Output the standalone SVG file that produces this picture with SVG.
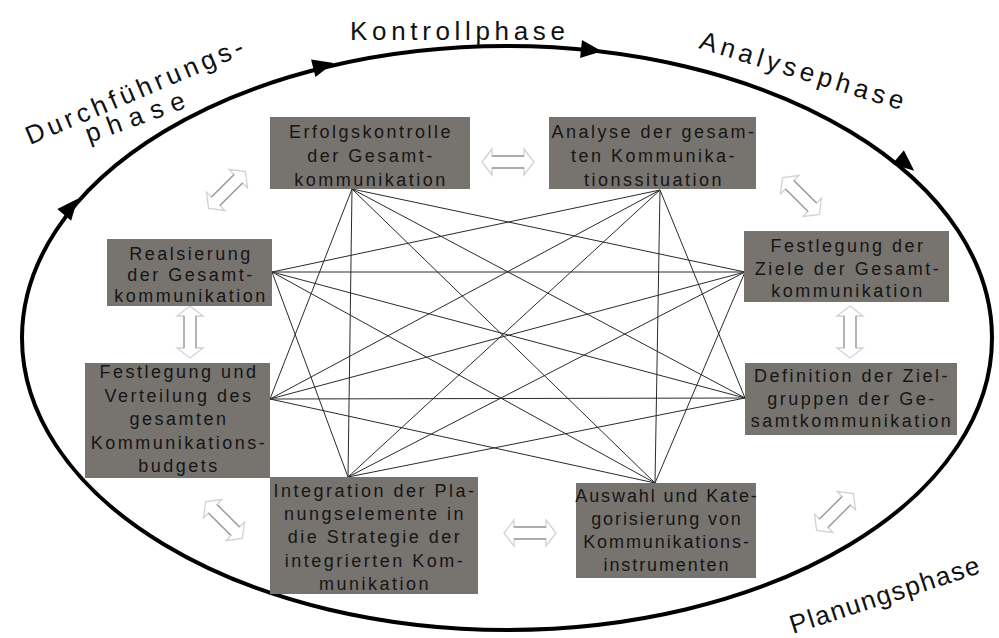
<svg xmlns="http://www.w3.org/2000/svg" width="999" height="638" viewBox="0 0 999 638">
<style>
.box{fill:#77736f;}
.bt{font-family:"Liberation Sans",Arial,sans-serif;font-size:18px;letter-spacing:2.5px;fill:#161616;text-anchor:middle;}
.tight{letter-spacing:1.9px;}
.ph{font-family:"Liberation Sans",Arial,sans-serif;font-size:26px;fill:#111;}
.ln{stroke:#2a2a2a;stroke-width:1;fill:none;}
.dao{fill:#fff;stroke:#d2d2d2;stroke-width:1.3;}
.das{stroke:#9c9c9c;stroke-width:1.3;fill:none;}
</style>
<defs>
<g id="darr">
<path class="dao" d="M -26 0 L -16 -13 L -16 -6 L 16 -6 L 16 -13 L 26 0 L 16 13 L 16 6 L -16 6 L -16 13 Z"/>
<path class="das" d="M -16 -6 H 16 M -16 6 H 16"/>
</g>
<path id="tri" d="M 12 0 L -9 -9 L -9 9 Z" fill="#000"/>
</defs>
<rect width="999" height="638" fill="#fff"/>

<g id="cycle">
<ellipse cx="507" cy="338" rx="485" ry="292" fill="none" stroke="#000" stroke-width="4"/>
<use href="#tri" transform="translate(322,66) rotate(-14)"/>
<use href="#tri" transform="translate(590,50) rotate(6)"/>
<use href="#tri" transform="translate(905,163) rotate(40)"/>
<use href="#tri" transform="translate(70,208) rotate(-50)"/>
</g>

<g id="phases">
<text class="ph" x="350" y="40" textLength="215">Kontrollphase</text>
<text class="ph" transform="translate(698,48) rotate(17)" textLength="212">Analysephase</text>
<text class="ph" transform="translate(30,145) rotate(-23)" textLength="234">Durchführungs-</text>
<text class="ph" transform="translate(89,143) rotate(-20)" textLength="104">phase</text>
<text class="ph" transform="translate(793,634) rotate(-18)" textLength="198">Planungsphase</text>
</g>

<g id="connectors">
<path class="ln" d="M352 189 L745 272 M352 189 L745 398 M352 189 L655 483 M352 189 L348 477 M352 189 L270 399"/>
<path class="ln" d="M660 190 L745 398 M660 190 L655 483 M660 190 L348 477 M660 190 L270 399 M660 190 L272 272"/>
<path class="ln" d="M745 272 L655 483 M745 272 L348 477 M745 272 L270 399 M745 272 L272 272"/>
<path class="ln" d="M745 398 L348 477 M745 398 L270 399 M745 398 L272 272"/>
<path class="ln" d="M655 483 L270 399 M655 483 L272 272"/>
<path class="ln" d="M348 477 L272 272"/>
<use href="#darr" transform="translate(508,162)"/>
<use href="#darr" transform="translate(530,533)"/>
<use href="#darr" transform="translate(190,332) rotate(90)"/>
<use href="#darr" transform="translate(850,332) rotate(90)"/>
<use href="#darr" transform="translate(227,190) rotate(-45)"/>
<use href="#darr" transform="translate(801,196) rotate(45)"/>
<use href="#darr" transform="translate(224,520) rotate(45)"/>
<use href="#darr" transform="translate(835,512) rotate(-45)"/>
</g>

<g id="erfolgskontrolle">
<rect class="box" x="270" y="117" width="200" height="72"/>
<text class="bt" x="371" y="138">Erfolgskontrolle</text>
<text class="bt" x="371" y="162">der Gesamt-</text>
<text class="bt" x="371" y="186">kommunikation</text>
</g>
<g id="analyse">
<rect class="box" x="549" y="117" width="207" height="72"/>
<text class="bt" x="654" y="138">Analyse der gesam-</text>
<text class="bt" x="654" y="162">ten Kommunika-</text>
<text class="bt" x="654" y="186">tionssituation</text>
</g>
<g id="realsierung">
<rect class="box" x="107" y="239" width="165" height="67"/>
<text class="bt" x="191" y="260">Realsierung</text>
<text class="bt" x="191" y="281">der Gesamt-</text>
<text class="bt" x="191" y="302">kommunikation</text>
</g>
<g id="ziele">
<rect class="box" x="744" y="231" width="205" height="71"/>
<text class="bt" x="848" y="252">Festlegung der</text>
<text class="bt" x="848" y="275">Ziele der Gesamt-</text>
<text class="bt" x="848" y="297">kommunikation</text>
</g>
<g id="budget">
<rect class="box" x="85" y="363" width="185" height="115"/>
<text class="bt" x="179" y="378">Festlegung und</text>
<text class="bt" x="179" y="402">Verteilung des</text>
<text class="bt" x="179" y="425">gesamten</text>
<text class="bt" x="179" y="449">Kommunikations-</text>
<text class="bt" x="179" y="472">budgets</text>
</g>
<g id="zielgruppen">
<rect class="box" x="745" y="363" width="212" height="72"/>
<text class="bt" x="852" y="382">Definition der Ziel-</text>
<text class="bt" x="852" y="405">gruppen der Ge-</text>
<text class="bt" x="852" y="427">samtkommunikation</text>
</g>
<g id="integration">
<rect class="box" x="270" y="477" width="208" height="117"/>
<text class="bt" x="375" y="497">Integration der Pla-</text>
<text class="bt" x="375" y="520">nungselemente in</text>
<text class="bt" x="375" y="543">die Strategie der</text>
<text class="bt" x="375" y="567">integrierten Kom-</text>
<text class="bt" x="375" y="590">munikation</text>
</g>
<g id="auswahl">
<rect class="box" x="576" y="483" width="180" height="95"/>
<text class="bt tight" x="667" y="502">Auswahl und Kate-</text>
<text class="bt tight" x="667" y="525">gorisierung von</text>
<text class="bt tight" x="667" y="548">Kommunikations-</text>
<text class="bt tight" x="667" y="571">instrumenten</text>
</g>
</svg>
